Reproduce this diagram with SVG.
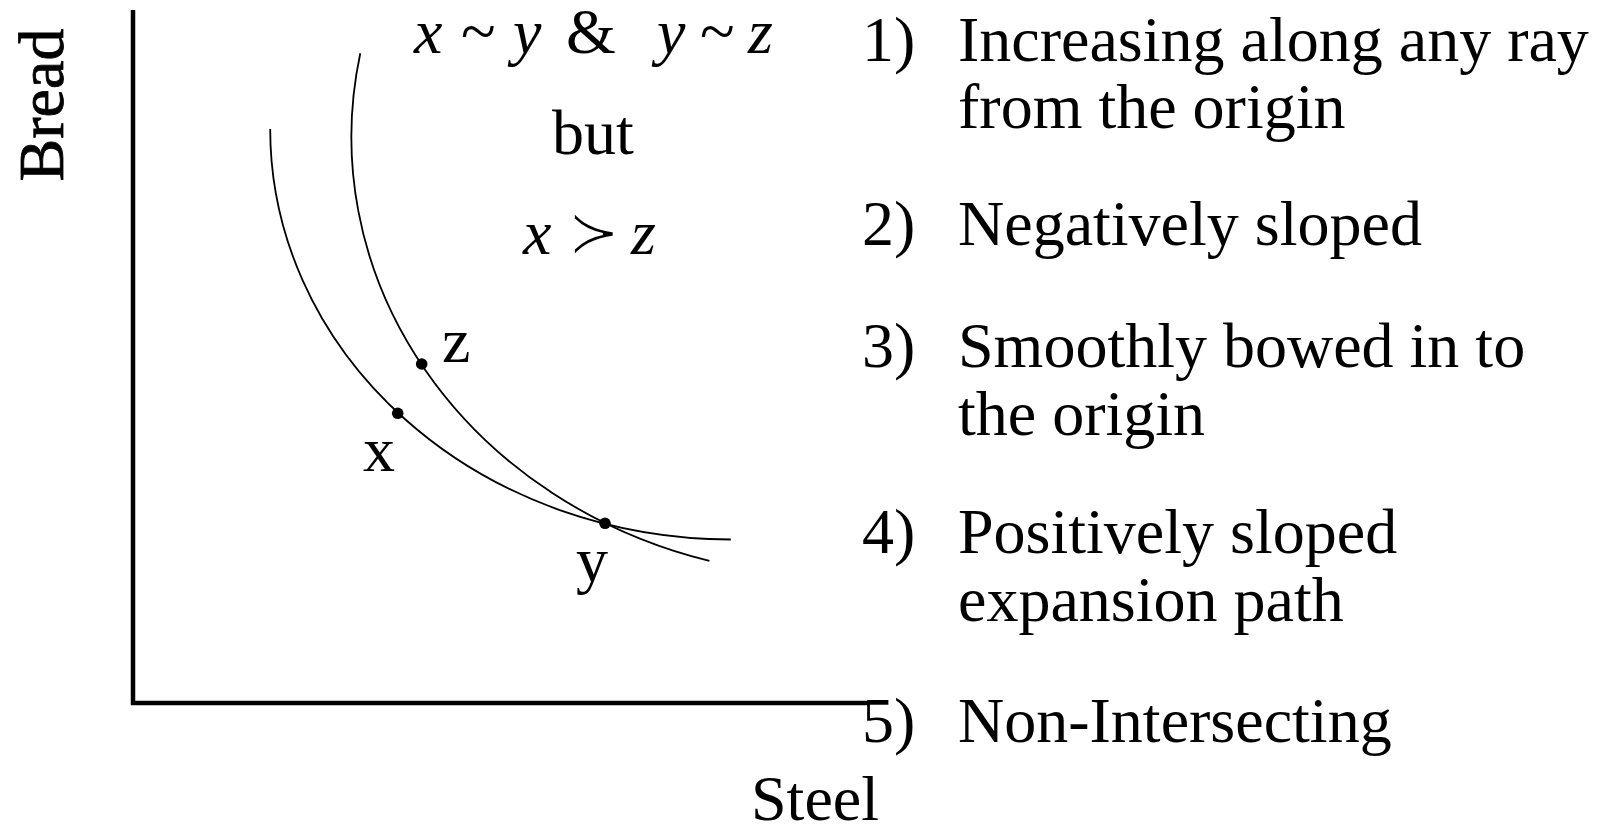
<svg xmlns="http://www.w3.org/2000/svg" width="1605" height="828" viewBox="0 0 1605 828">
<style>
text{font-family:"Liberation Serif","Times New Roman","DejaVu Serif",serif;font-size:64px;fill:#000}
.it{font-style:italic}
.up{font-style:normal}
.sym{font-family:"DejaVu Sans","Noto Sans",sans-serif;font-weight:200;font-style:normal;stroke:#fff;stroke-width:2.2}
.axis{stroke:#000;stroke-width:4.5;fill:none}
.curve{stroke:#000;stroke-width:1.8;fill:none}
.dot{fill:#000}
</style>
<rect width="1605" height="828" fill="#fff"/>
<g id="axes">
<line class="axis" x1="133" y1="10" x2="133" y2="705"/>
<line class="axis" x1="131" y1="703" x2="870" y2="703"/>
<text id="bread-label" transform="translate(63,105) rotate(-90)" text-anchor="middle" stroke="#000" stroke-width="0.8">Bread</text>
<text id="steel-label" x="751" y="820">Steel</text>
</g>
<g id="connectors">
<path id="curve-outer" class="curve" d="M360.3 53.2 A484.8 439.2 0 0 0 709.4 560.9"/>
<path id="curve-inner" class="curve" d="M270.2 129 A460.6 410.5 0 0 0 730.8 539.5"/>
</g>
<g id="point-z"><circle class="dot" cx="421.7" cy="364" r="5.8"/><text x="442" y="362">z</text></g>
<g id="point-x"><circle class="dot" cx="397.7" cy="413.3" r="5.8"/><text x="363" y="471">x</text></g>
<g id="point-y"><circle class="dot" cx="605" cy="523.3" r="5.8"/><text x="576" y="581">y</text></g>
<g id="note">
<text y="53"><tspan class="it" x="414">x</tspan><tspan class="up" x="461">~</tspan><tspan class="it" x="513">y</tspan><tspan class="up" x="566">&amp;</tspan><tspan class="it" x="657">y</tspan><tspan class="up" x="700">~</tspan><tspan class="it" x="748">z</tspan></text>
<text x="552" y="154">but</text>
<text y="254"><tspan class="it" x="523">x</tspan><tspan class="sym" x="567">≻</tspan><tspan class="it" x="631">z</tspan></text>
</g>
<g id="list">
<g id="item1"><text x="862" y="61">1)</text><text x="958" y="61">Increasing along any ray</text><text x="958" y="128">from the origin</text></g>
<g id="item2"><text x="862" y="245">2)</text><text x="958" y="245">Negatively sloped</text></g>
<g id="item3"><text x="862" y="367">3)</text><text x="958" y="367">Smoothly bowed in to</text><text x="958" y="435">the origin</text></g>
<g id="item4"><text x="862" y="553">4)</text><text x="958" y="553">Positively sloped</text><text x="958" y="621">expansion path</text></g>
<g id="item5"><text x="862" y="742">5)</text><text x="958" y="742">Non-Intersecting</text></g>
</g>
</svg>
